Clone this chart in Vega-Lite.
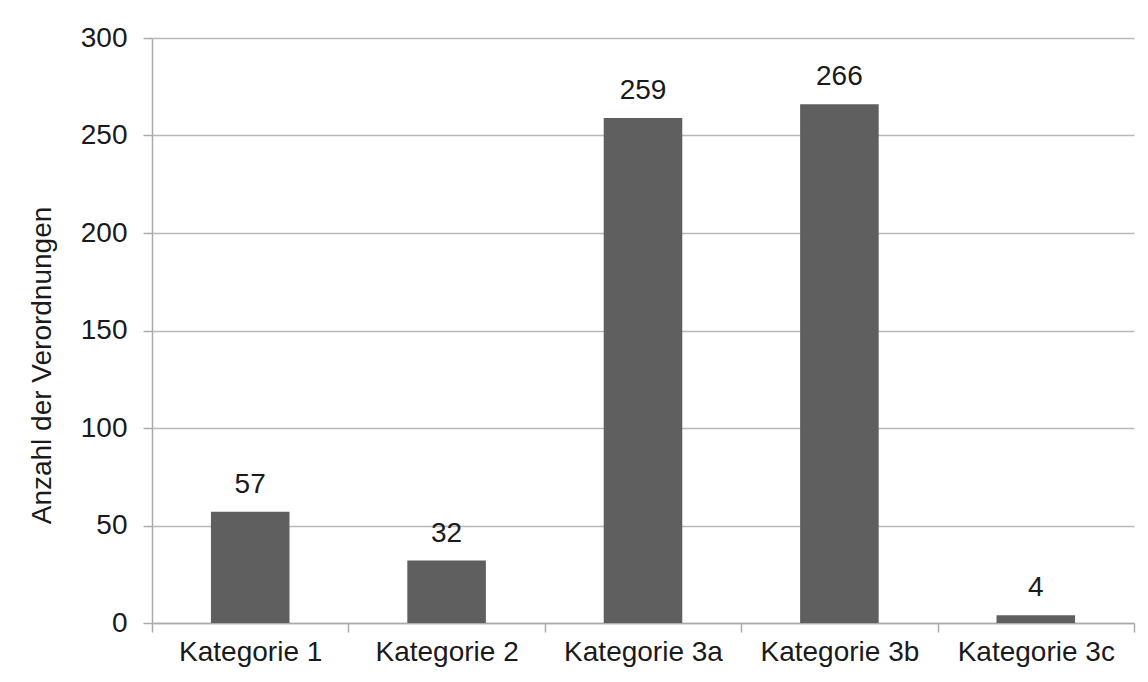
{
  "$schema": "https://vega.github.io/schema/vega-lite/v6.json",
  "width": 982,
  "height": 585,
  "autosize": {"type": "none"},
  "padding": {"left": 152, "top": 38, "right": 14, "bottom": 59},
  "background": "white",
  "config": {
    "view": {"stroke": null},
    "font": "Liberation Sans",
    "axis": {"labelFont": "Liberation Sans", "titleFont": "Liberation Sans"}
  },
  "data": {
    "values": [
      {"kategorie": "Kategorie 1", "anzahl": 57},
      {"kategorie": "Kategorie 2", "anzahl": 32},
      {"kategorie": "Kategorie 3a", "anzahl": 259},
      {"kategorie": "Kategorie 3b", "anzahl": 266},
      {"kategorie": "Kategorie 3c", "anzahl": 4}
    ]
  },
  "encoding": {
    "x": {
      "field": "kategorie",
      "type": "nominal",
      "sort": null,
      "scale": {"paddingInner": 0, "paddingOuter": 0},
      "axis": {
        "title": null,
        "labelAngle": 0,
        "labelFontSize": 28,
        "labelColor": "#1a1a1a",
        "labelPadding": 6,
        "tickBand": "extent",
        "tickSize": 9,
        "tickColor": "#ababab",
        "domainColor": "#ababab",
        "domainWidth": 1.5,
        "tickWidth": 1.5,
        "grid": false
      }
    },
    "y": {
      "field": "anzahl",
      "type": "quantitative",
      "scale": {"domain": [0, 300], "nice": false},
      "axis": {
        "title": "Anzahl der Verordnungen",
        "titleFontSize": 28,
        "titleFontWeight": "normal",
        "titleColor": "#1a1a1a",
        "titleAngle": -90,
        "titleAlign": "center",
        "titleBaseline": "alphabetic",
        "titleX": -102,
        "titleY": 327,
        "values": [0, 50, 100, 150, 200, 250, 300],
        "labelFontSize": 28,
        "labelColor": "#1a1a1a",
        "labelPadding": 16,
        "tickSize": 9,
        "tickColor": "#ababab",
        "domainColor": "#ababab",
        "domainWidth": 1.5,
        "tickWidth": 1.5,
        "gridColor": "#b8b8b8",
        "gridWidth": 1.5,
        "grid": true
      }
    }
  },
  "layer": [
    {
      "mark": {"type": "bar", "color": "#5f5f5f", "width": {"band": 0.4}}
    },
    {
      "mark": {"type": "text", "fontSize": 28, "color": "#1a1a1a", "baseline": "alphabetic", "dy": -19},
      "encoding": {"text": {"field": "anzahl", "type": "quantitative"}}
    }
  ]
}
